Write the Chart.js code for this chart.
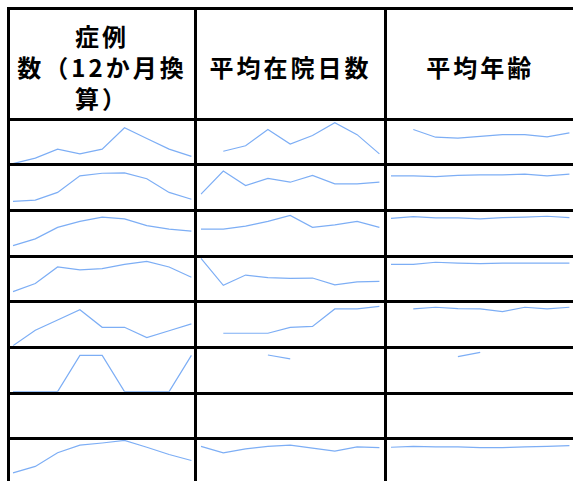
<!DOCTYPE html>
<html><head><meta charset="utf-8">
<script src="https://cdn.jsdelivr.net/npm/chart.js@4/dist/chart.umd.min.js"></script>
<style>
html,body{margin:0;padding:0;background:#fff;overflow:hidden;width:573px;height:481px}
#wrap{position:absolute;left:0;top:0;width:573px;height:481px;overflow:hidden;background:#fff}
.ln{position:absolute;background:#000;z-index:5}
.hd{position:absolute;display:flex;flex-direction:column;align-items:center;justify-content:center;text-align:center;
 font-family:"Noto Sans CJK JP","Noto Sans CJK SC",sans-serif;font-weight:bold;font-size:24px;line-height:31px;letter-spacing:3px;color:#000;box-sizing:border-box;padding-top:5px}
.cv{position:absolute;z-index:1}
</style></head><body><div id="wrap"></div>
<script>
// ---- data ----
const headerLines = [["症例","数（12か月換","算）"],["平均在院日数"],["平均年齢"]];
const periods = ["1","2","3","4","5","6","7","8","9"];
const N = null;
const caseCounts = [
  [0, 13, 34, 23, 34, 84, 59, 34, 17],
  [17, 20, 38, 77, 83, 84, 70, 38, 22],
  [21, 37, 64, 78, 88, 84, 68, 60, 55],
  [21, 40, 79, 72, 75, 85, 92, 79, 55],
  [0, 36, 60, 84, 43, 43, 19, 35, 51],
  [0, 0, 0, 85, 85, 0, 0, 0, 85],
  [N, N, N, N, N, N, N, N, N],
  [23, 38, 70, 88, 93, 99, 83, 66, 52]
];
const lengthOfStay = [
  [N, 29, 42, 80, 46, 66, 96, 68, 23],
  [34, 88, 54, 71, 62, 78, 58, 58, 62],
  [60, 60, 67, 78, 92, 64, 70, 78, 64],
  [99, 36, 60, 54, 52, 53, 37, 44, 45],
  [N, 29, 29, 29, 43, 45, 86, 86, 92],
  [N, N, N, 86, 77, N, N, N, N],
  [N, N, N, N, N, N, N, N, N],
  [85, 70, 79, 85, 88, 81, 74, 84, 82]
];
const avgAge = [
  [N, 80, 62, 60, 64, 68, 68, 63, 72],
  [77, 77, 75, 78, 79, 79, 81, 77, 81],
  [85, 89, 86, 86, 84, 87, 88, 90, 87],
  [85, 85, 90, 88, 87, 88, 88, 88, 88],
  [N, 86, 90, 87, 86, 80, 90, 86, 90],
  [N, N, N, 82, 92, N, N, N, N],
  [N, N, N, N, N, N, N, N, N],
  [83, 85, 84, 84, 82, 82, 84, 85, 87]
];
const columns = [caseCounts, lengthOfStay, avgAge];

// ---- layout ----
const wrap = document.getElementById('wrap');
const BW = 3;
const colX = [8.5, 195.5, 385.5, 575];
const rowY = [8.75, 119.25];
for (let i = 1; i <= 8; i++) rowY.push(119.25 + i * 45.64);
const LINE = 'rgb(125,174,245)';
const CHART_W = 178.4, M = 3;

function addLine(x, y, w, h) {
  const d = document.createElement('div');
  d.className = 'ln';
  d.style.left = x + 'px'; d.style.top = y + 'px';
  d.style.width = w + 'px'; d.style.height = h + 'px';
  wrap.appendChild(d);
}
rowY.forEach(y => addLine(colX[0] - BW / 2, y - BW / 2, 600, BW));
colX.forEach(x => addLine(x - BW / 2, rowY[0] - BW / 2, BW, 600));

// headers
headerLines.forEach((lines, c) => {
  const d = document.createElement('div');
  d.className = 'hd';
  const l = colX[c] + BW / 2, r = colX[c + 1] - BW / 2;
  const t = rowY[0] + BW / 2, b = rowY[1] - BW / 2;
  d.style.left = l + 'px'; d.style.top = t + 'px';
  d.style.width = (r - l) + 'px'; d.style.height = (b - t) + 'px';
  lines.forEach(s => { const sp = document.createElement('div'); sp.textContent = s; d.appendChild(sp); });
  wrap.appendChild(d);
});

// sparklines
columns.forEach((rows, c) => {
  rows.forEach((vals, r) => {
    const l = colX[c] + BW / 2, rr = colX[c + 1] - BW / 2;
    const t = rowY[r + 1] + BW / 2, b = rowY[r + 2] - BW / 2;
    const cx = (l + rr) / 2;
    const areaL = cx - CHART_W / 2;
    const areaH = b - t;
    const W = Math.round(CHART_W + 2 * M), H = Math.round(areaH + 2 * M);
    const cv = document.createElement('canvas');
    cv.className = 'cv';
    cv.width = W; cv.height = H;
    cv.style.width = W + 'px'; cv.style.height = H + 'px';
    cv.style.left = (areaL - M) + 'px'; cv.style.top = (t - M) + 'px';
    wrap.appendChild(cv);
    new Chart(cv, {
      type: 'line',
      data: { labels: periods, datasets: [{ data: vals, borderColor: LINE, borderWidth: 1.2,
        pointRadius: 0, tension: 0, fill: false, spanGaps: false }] },
      options: {
        responsive: false, animation: false, events: [],
        layout: { padding: { left: M, top: M, right: W - CHART_W - M, bottom: H - areaH - M } },
        plugins: { legend: { display: false }, tooltip: { enabled: false } },
        scales: { x: { display: false, offset: false }, y: { display: false, min: 0, max: 100 } }
      }
    });
  });
});
</script></body></html>
